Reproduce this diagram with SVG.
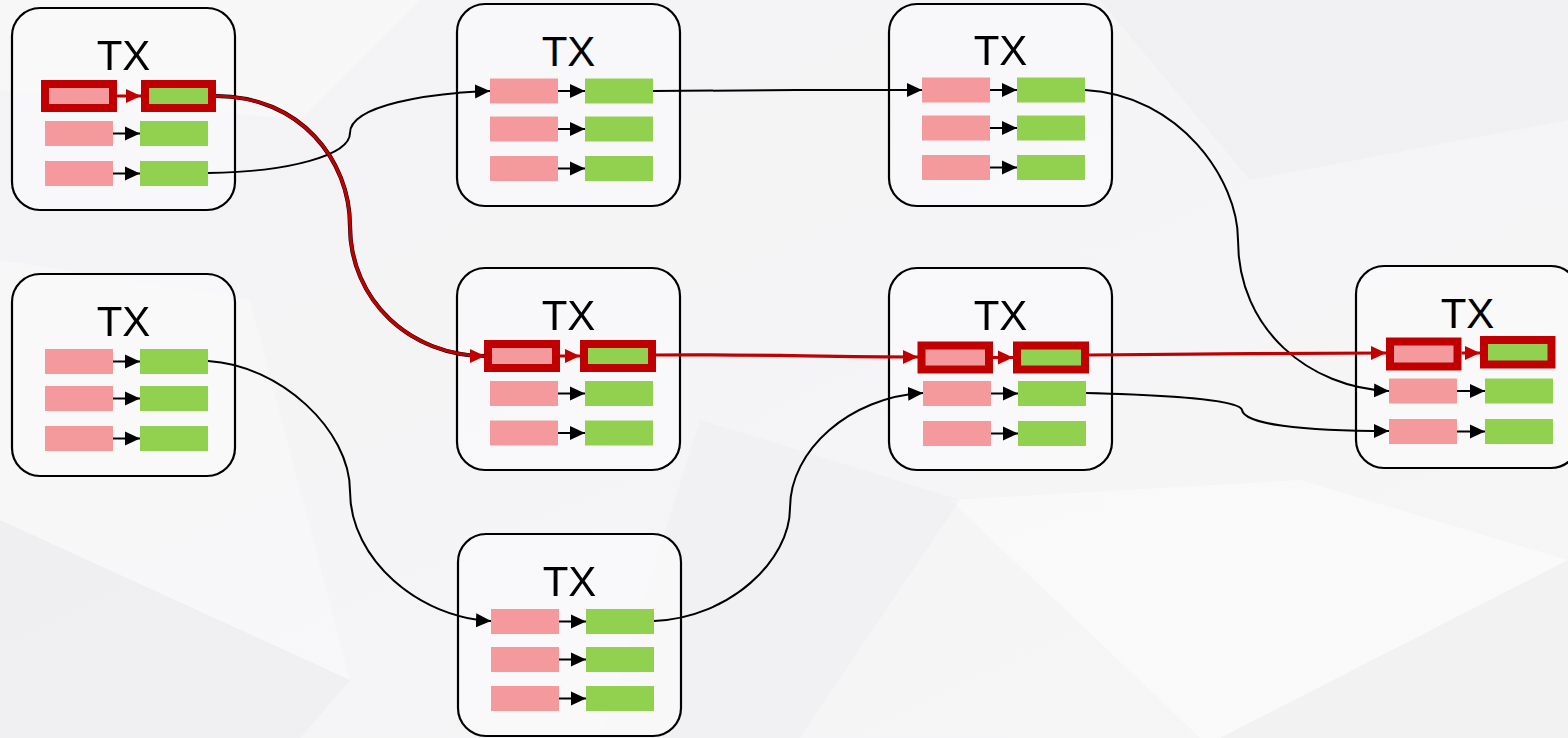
<svg xmlns="http://www.w3.org/2000/svg" width="1568" height="738" viewBox="0 0 1568 738">
<style>
.box{fill:#fafafb;fill-opacity:0.75;stroke:#000;stroke-width:2.2}
.tx{font-family:"Liberation Sans",Arial,sans-serif;font-size:42px;fill:#000;text-anchor:middle}
.pk{fill:#f4999c}
.gr{fill:#92d050}
.hl{stroke:#c00000;stroke-width:8}
.ia{stroke:#000;stroke-width:2;fill:none;marker-end:url(#ab)}
.ir{stroke:#c00000;stroke-width:3;fill:none;marker-end:url(#ar)}
.cb{stroke:#000;stroke-width:2;fill:none;marker-end:url(#ab)}
.cr{stroke:#c00000;stroke-width:3.2;fill:none;marker-end:url(#ar)}
</style>
<defs>
<marker id="ab" markerUnits="userSpaceOnUse" markerWidth="16" markerHeight="15" refX="15" refY="7.5" orient="auto"><path d="M0,0.5 L15,7.5 L0,14.5 z" fill="#000"/></marker>
<marker id="ar" markerUnits="userSpaceOnUse" markerWidth="16" markerHeight="15" refX="15" refY="7.5" orient="auto"><path d="M0,0.5 L15,7.5 L0,14.5 z" fill="#c00000"/></marker>
<linearGradient id="bg" x1="0" y1="0" x2="1" y2="1"><stop offset="0" stop-color="#f3f3f5"/><stop offset="1" stop-color="#f6f6f7"/></linearGradient>
</defs>
<rect width="1568" height="738" fill="url(#bg)"/>
<g id="background" opacity="0.7">
<polygon points="0,0 420,0 300,120 0,90" fill="#ffffff" opacity="0.5"/>
<polygon points="0,260 250,300 350,680 0,520" fill="#ffffff" opacity="0.45"/>
<polygon points="0,520 350,680 300,738 0,738" fill="#e9e9eb" opacity="0.6"/>
<polygon points="950,500 1300,480 1568,560 1568,738 1200,738" fill="#ffffff" opacity="0.6"/>
<polygon points="1100,0 1568,0 1568,120 1250,180" fill="#ebebed" opacity="0.6"/>
<polygon points="700,420 960,500 800,738 600,738" fill="#ececee" opacity="0.5"/>
<polygon points="1568,560 1568,738 1220,738" fill="#e6e6e8" opacity="0.5"/>
</g>
<g id="n1" transform="translate(12,8)">
<rect class="box" x="0" y="0" width="223" height="202" rx="28"/>
<text class="tx" x="111.5" y="62">TX</text>
<rect class="pk hl" x="33" y="76" width="68" height="24"/>
<rect class="gr hl" x="133" y="76" width="67" height="24"/>
<line class="ir" x1="105" y1="88" x2="129" y2="88"/>
<rect class="pk" x="33" y="113" width="68" height="25"/><rect class="gr" x="128" y="113" width="68" height="25"/><line class="ia" x1="101" y1="125.5" x2="128" y2="125.5"/>
<rect class="pk" x="33" y="153" width="68" height="25"/><rect class="gr" x="128" y="153" width="68" height="25"/><line class="ia" x1="101" y1="165.5" x2="128" y2="165.5"/>
</g>
<g id="n2" transform="translate(457,4)">
<rect class="box" x="0" y="0" width="223" height="202" rx="28"/>
<text class="tx" x="111.5" y="62">TX</text>
<rect class="pk" x="33" y="74.5" width="68" height="25"/><rect class="gr" x="128" y="74.5" width="68" height="25"/><line class="ia" x1="101" y1="87" x2="128" y2="87"/>
<rect class="pk" x="33" y="112.5" width="68" height="25"/><rect class="gr" x="128" y="112.5" width="68" height="25"/><line class="ia" x1="101" y1="125" x2="128" y2="125"/>
<rect class="pk" x="33" y="152" width="68" height="25"/><rect class="gr" x="128" y="152" width="68" height="25"/><line class="ia" x1="101" y1="164.5" x2="128" y2="164.5"/>
</g>
<g id="n3" transform="translate(889,4)">
<rect class="box" x="0" y="0" width="223" height="202" rx="28"/>
<text class="tx" x="111.5" y="61">TX</text>
<rect class="pk" x="33" y="73.5" width="68" height="25"/><rect class="gr" x="128" y="73.5" width="68" height="25"/><line class="ia" x1="101" y1="86" x2="128" y2="86"/>
<rect class="pk" x="33" y="111.5" width="68" height="25"/><rect class="gr" x="128" y="111.5" width="68" height="25"/><line class="ia" x1="101" y1="124" x2="128" y2="124"/>
<rect class="pk" x="33" y="151" width="68" height="25"/><rect class="gr" x="128" y="151" width="68" height="25"/><line class="ia" x1="101" y1="163.5" x2="128" y2="163.5"/>
</g>
<g id="n4" transform="translate(12,274)">
<rect class="box" x="0" y="0" width="223" height="202" rx="28"/>
<text class="tx" x="111.5" y="62">TX</text>
<rect class="pk" x="33" y="75" width="68" height="25"/><rect class="gr" x="128" y="75" width="68" height="25"/><line class="ia" x1="101" y1="87.5" x2="128" y2="87.5"/>
<rect class="pk" x="33" y="112" width="68" height="25"/><rect class="gr" x="128" y="112" width="68" height="25"/><line class="ia" x1="101" y1="124.5" x2="128" y2="124.5"/>
<rect class="pk" x="33" y="152" width="68" height="25"/><rect class="gr" x="128" y="152" width="68" height="25"/><line class="ia" x1="101" y1="164.5" x2="128" y2="164.5"/>
</g>
<g id="n5" transform="translate(457,268)">
<rect class="box" x="0" y="0" width="223" height="202" rx="28"/>
<text class="tx" x="111.5" y="62">TX</text>
<rect class="pk hl" x="31" y="76" width="68" height="24"/>
<rect class="gr hl" x="127" y="76" width="68" height="24"/>
<line class="ir" x1="103" y1="88" x2="123" y2="88"/>
<rect class="pk" x="33" y="113" width="68" height="25"/><rect class="gr" x="128" y="113" width="68" height="25"/><line class="ia" x1="101" y1="125.5" x2="128" y2="125.5"/>
<rect class="pk" x="33" y="152.5" width="68" height="25"/><rect class="gr" x="128" y="152.5" width="68" height="25"/><line class="ia" x1="101" y1="165" x2="128" y2="165"/>
</g>
<g id="n6" transform="translate(889,268)">
<rect class="box" x="0" y="0" width="223" height="202" rx="28"/>
<text class="tx" x="111.5" y="62">TX</text>
<rect class="pk hl" x="32.5" y="77.5" width="67.5" height="24"/>
<rect class="gr hl" x="128" y="77.5" width="68" height="24"/>
<line class="ir" x1="104" y1="89.5" x2="124" y2="89.5"/>
<rect class="pk" x="34" y="113" width="68" height="25"/><rect class="gr" x="129" y="113" width="68" height="25"/><line class="ia" x1="102" y1="125.5" x2="129" y2="125.5"/>
<rect class="pk" x="34" y="153" width="68" height="25"/><rect class="gr" x="129" y="153" width="68" height="25"/><line class="ia" x1="102" y1="165.5" x2="129" y2="165.5"/>
</g>
<g id="n7" transform="translate(1356,266)">
<rect class="box" x="0" y="0" width="223" height="202" rx="28"/>
<text class="tx" x="111.5" y="62">TX</text>
<rect class="pk hl" x="34" y="75.5" width="67.5" height="25"/>
<rect class="gr hl" x="128" y="74" width="67.5" height="24.5"/>
<line class="ir" x1="105.5" y1="87" x2="124" y2="87"/>
<rect class="pk" x="33" y="112.5" width="68" height="25"/><rect class="gr" x="129" y="112.5" width="68" height="25"/><line class="ia" x1="101" y1="125" x2="129" y2="125"/>
<rect class="pk" x="33" y="153" width="68" height="25"/><rect class="gr" x="129" y="153" width="68" height="25"/><line class="ia" x1="101" y1="165.5" x2="129" y2="165.5"/>
</g>
<g id="n8" transform="translate(458,534)">
<rect class="box" x="0" y="0" width="223" height="202" rx="28"/>
<text class="tx" x="111.5" y="62">TX</text>
<rect class="pk" x="33" y="75" width="68" height="25"/><rect class="gr" x="128" y="75" width="68" height="25"/><line class="ia" x1="101" y1="87.5" x2="128" y2="87.5"/>
<rect class="pk" x="33" y="113" width="68" height="25"/><rect class="gr" x="128" y="113" width="68" height="25"/><line class="ia" x1="101" y1="125.5" x2="128" y2="125.5"/>
<rect class="pk" x="33" y="152" width="68" height="25"/><rect class="gr" x="128" y="152" width="68" height="25"/><line class="ia" x1="101" y1="164.5" x2="128" y2="164.5"/>
</g>
<g id="connectors">
<path class="cb" d="M208,173 C290,172 350,155 350,133 C350,105 430,93 490,91"/>
<path class="cb" d="M653,91 C760,90 820,90 922,90"/>
<path class="cb" d="M1085,90 C1180,95 1238,180 1238,240 C1238,330 1310,388 1389,391"/>
<path class="cb" d="M208,361 C280,365 350,430 350,491 C350,560 420,618 491,621"/>
<path class="cb" d="M654,621 C730,618 790,560 790,508 C790,450 850,397 923,393"/>
<path class="cb" d="M1086,393 C1170,395 1240,400 1242,410 C1244,424 1300,431 1389,431"/>
<path d="M216,96 C300,96 350,160 350,226 C350,300 410,356 485,356" stroke="#000" stroke-width="4.2" fill="none"/>
<path class="cr" d="M216,96 C300,96 350,160 350,226 C350,300 410,356 485,356"/>
<path class="cr" d="M656,355 C760,354 820,357 918,357"/>
<path class="cr" d="M1089,355 C1200,354 1280,353 1386,353"/>
</g>
</svg>
